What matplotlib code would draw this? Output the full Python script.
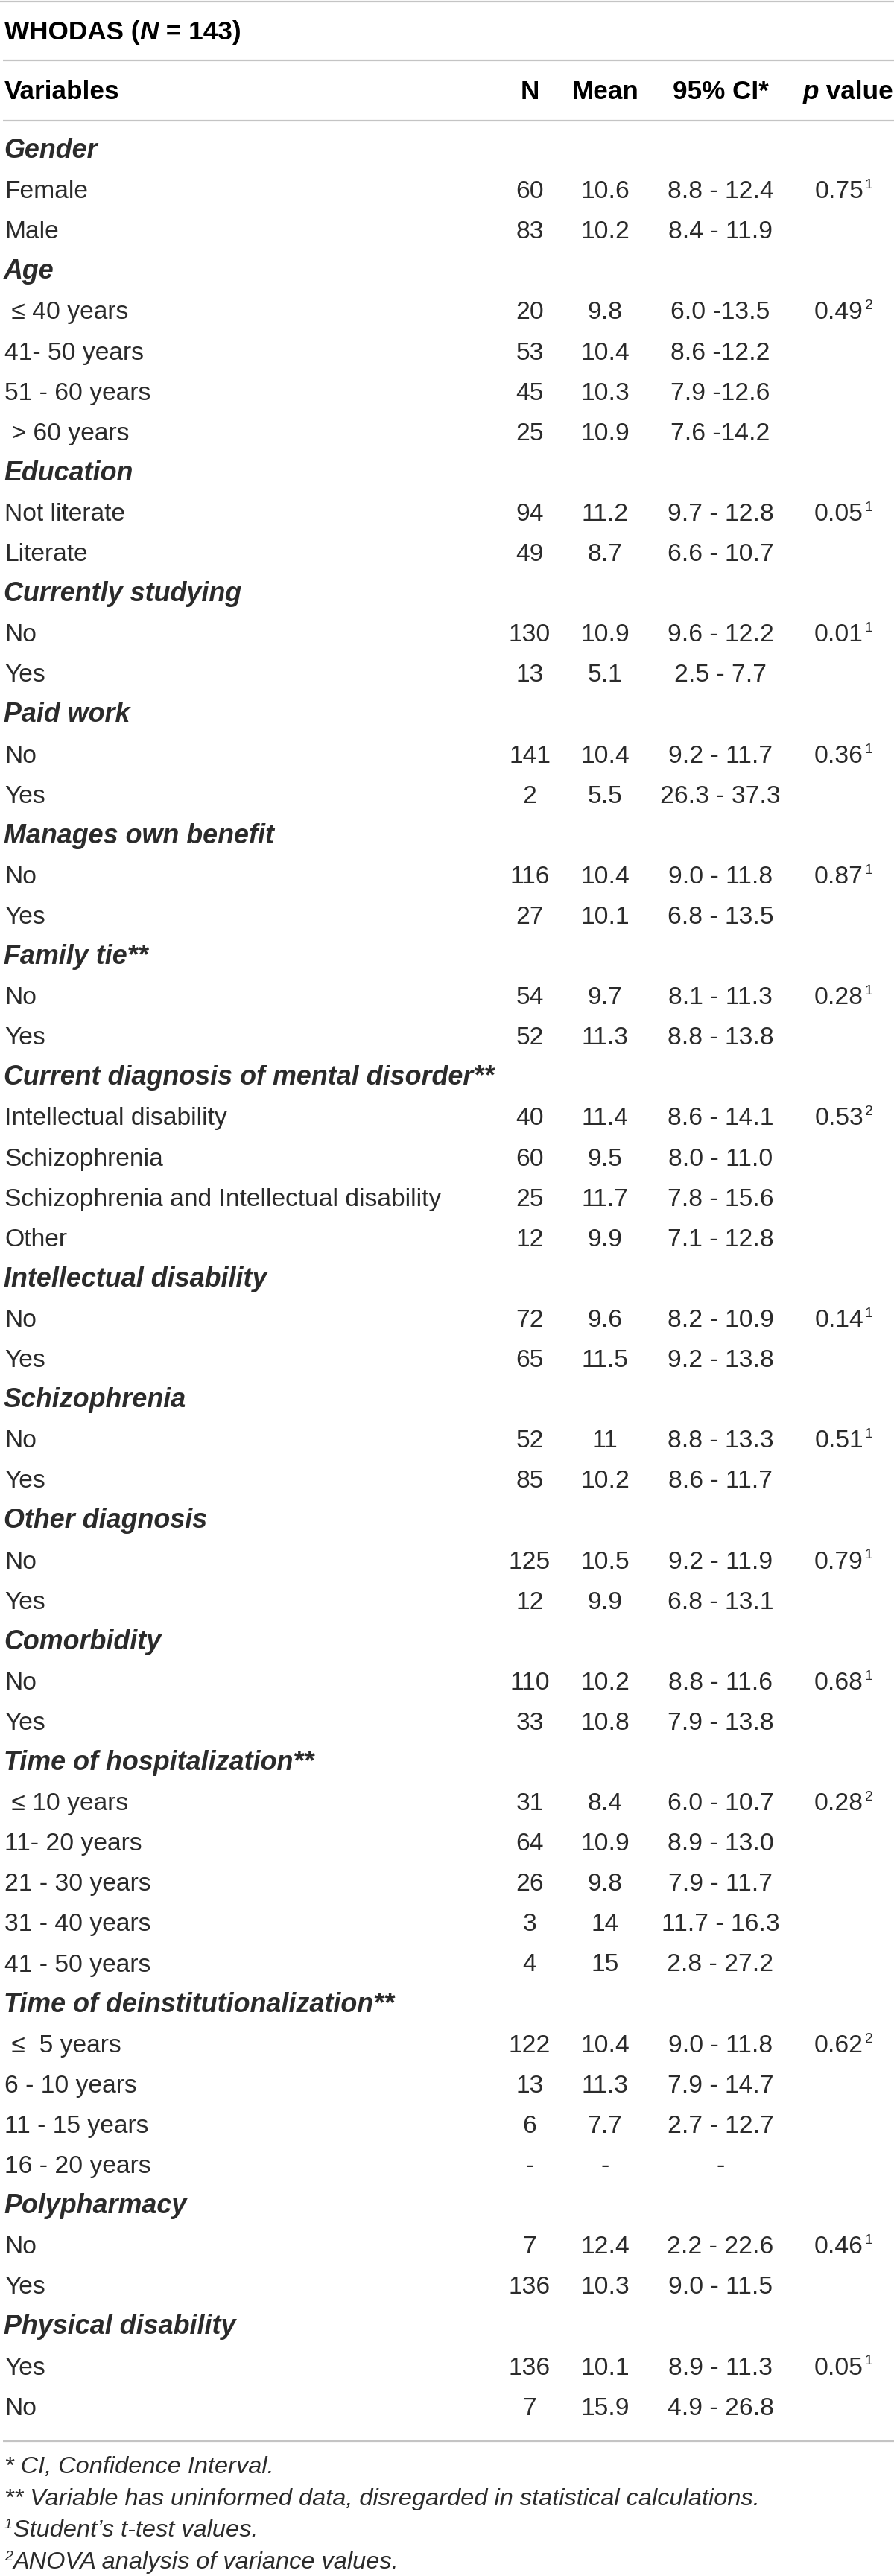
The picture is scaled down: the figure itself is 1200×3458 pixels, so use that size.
import matplotlib
matplotlib.use("Agg")
import matplotlib.pyplot as plt
from matplotlib import font_manager as fm

# ---------------- data ----------------
title_main = "WHODAS"
title_n = "143"
col_headers = ["Variables", "N", "Mean", "95% CI*", "p value"]

labels = [
    "Gender", "Female", "Male",
    "Age", " \u2264 40 years", "41- 50 years", "51 - 60 years", " > 60 years",
    "Education", "Not literate", "Literate",
    "Currently studying", "No", "Yes",
    "Paid work", "No", "Yes",
    "Manages own benefit", "No", "Yes",
    "Family tie**", "No", "Yes",
    "Current diagnosis of mental disorder**", "Intellectual disability", "Schizophrenia",
    "Schizophrenia and Intellectual disability", "Other",
    "Intellectual disability", "No", "Yes",
    "Schizophrenia", "No", "Yes",
    "Other diagnosis", "No", "Yes",
    "Comorbidity", "No", "Yes",
    "Time of hospitalization**", " \u2264 10 years", "11- 20 years", "21 - 30 years",
    "31 - 40 years", "41 - 50 years",
    "Time of deinstitutionalization**", " \u2264  5 years", "6 - 10 years", "11 - 15 years",
    "16 - 20 years",
    "Polypharmacy", "No", "Yes",
    "Physical disability", "Yes", "No",
]
is_group = [
    True, False, False,
    True, False, False, False, False,
    True, False, False,
    True, False, False,
    True, False, False,
    True, False, False,
    True, False, False,
    True, False, False, False, False,
    True, False, False,
    True, False, False,
    True, False, False,
    True, False, False,
    True, False, False, False, False, False,
    True, False, False, False, False,
    True, False, False,
    True, False, False,
]
n_vals = [
    "", "60", "83",
    "", "20", "53", "45", "25",
    "", "94", "49",
    "", "130", "13",
    "", "141", "2",
    "", "116", "27",
    "", "54", "52",
    "", "40", "60", "25", "12",
    "", "72", "65",
    "", "52", "85",
    "", "125", "12",
    "", "110", "33",
    "", "31", "64", "26", "3", "4",
    "", "122", "13", "6", "-",
    "", "7", "136",
    "", "136", "7",
]
mean_vals = [
    "", "10.6", "10.2",
    "", "9.8", "10.4", "10.3", "10.9",
    "", "11.2", "8.7",
    "", "10.9", "5.1",
    "", "10.4", "5.5",
    "", "10.4", "10.1",
    "", "9.7", "11.3",
    "", "11.4", "9.5", "11.7", "9.9",
    "", "9.6", "11.5",
    "", "11", "10.2",
    "", "10.5", "9.9",
    "", "10.2", "10.8",
    "", "8.4", "10.9", "9.8", "14", "15",
    "", "10.4", "11.3", "7.7", "-",
    "", "12.4", "10.3",
    "", "10.1", "15.9",
]
ci_vals = [
    "", "8.8 - 12.4", "8.4 - 11.9",
    "", "6.0 -13.5", "8.6 -12.2", "7.9 -12.6", "7.6 -14.2",
    "", "9.7 - 12.8", "6.6 - 10.7",
    "", "9.6 - 12.2", "2.5 - 7.7",
    "", "9.2 - 11.7", "26.3 - 37.3",
    "", "9.0 - 11.8", "6.8 - 13.5",
    "", "8.1 - 11.3", "8.8 - 13.8",
    "", "8.6 - 14.1", "8.0 - 11.0", "7.8 - 15.6", "7.1 - 12.8",
    "", "8.2 - 10.9", "9.2 - 13.8",
    "", "8.8 - 13.3", "8.6 - 11.7",
    "", "9.2 - 11.9", "6.8 - 13.1",
    "", "8.8 - 11.6", "7.9 - 13.8",
    "", "6.0 - 10.7", "8.9 - 13.0", "7.9 - 11.7", "11.7 - 16.3", "2.8 - 27.2",
    "", "9.0 - 11.8", "7.9 - 14.7", "2.7 - 12.7", "-",
    "", "2.2 - 22.6", "9.0 - 11.5",
    "", "8.9 - 11.3", "4.9 - 26.8",
]
p_vals = [
    "", "0.75", "",
    "", "0.49", "", "", "",
    "", "0.05", "",
    "", "0.01", "",
    "", "0.36", "",
    "", "0.87", "",
    "", "0.28", "",
    "", "0.53", "", "", "",
    "", "0.14", "",
    "", "0.51", "",
    "", "0.79", "",
    "", "0.68", "",
    "", "0.28", "", "", "", "",
    "", "0.62", "", "", "",
    "", "0.46", "",
    "", "0.05", "",
]
p_marks = [
    "", "1", "",
    "", "2", "", "", "",
    "", "1", "",
    "", "1", "",
    "", "1", "",
    "", "1", "",
    "", "1", "",
    "", "2", "", "", "",
    "", "1", "",
    "", "1", "",
    "", "1", "",
    "", "1", "",
    "", "2", "", "", "", "",
    "", "2", "", "", "",
    "", "1", "",
    "", "1", "",
]
footnotes = [
    ("", "* CI, Confidence Interval."),
    ("", "** Variable has uninformed data, disregarded in statistical calculations."),
    ("1", "Student\u2019s t-test values."),
    ("2", "ANOVA analysis of variance values."),
]

# ---------------- fonts ----------------
try:
    fm.findfont(fm.FontProperties(family="Liberation Sans Narrow"), fallback_to_default=False)
    FONT = "Liberation Sans Narrow"
    SCALE = 1.0
except Exception:
    FONT = "Liberation Sans"
    SCALE = 0.82

FAMILY = [FONT, "DejaVu Sans"]
FS = 29.5 * SCALE
FS_HEAD = 30.8 * SCALE
FS_GROUP = 31.5 * SCALE
FS_SUP = 17 * SCALE
FS_FOOT = 28.5 * SCALE

# ---------------- layout ----------------
W, H = 1200, 3458
DPI = 100
TXT = "#2b2b2b"
LINE = "#c4c4c4"

fig = plt.figure(figsize=(W / DPI, H / DPI), dpi=DPI)
ax = fig.add_axes([0, 0, 1, 1])
ax.set_xlim(0, W)
ax.set_ylim(H, 0)
ax.axis("off")
renderer = fig.canvas.get_renderer()


def put(x, y, s, **kw):
    kw.setdefault("family", FAMILY)
    kw.setdefault("color", TXT)
    kw.setdefault("fontsize", FS)
    kw.setdefault("va", "baseline")
    return ax.text(x, y, s, **kw)


def extent(t):
    bb = t.get_window_extent(renderer=renderer)
    inv = ax.transData.inverted()
    (x0, _), (x1, _) = inv.transform([[bb.x0, bb.y0], [bb.x1, bb.y1]])
    return x0, x1


# rules
ax.hlines([2], 0, W, color=LINE, lw=1.6)
ax.hlines([81, 162, 3277], 4, W, color=LINE, lw=1.6)

# title
t = put(6, 53, title_main + " (", fontweight="bold", color="black", fontsize=FS_HEAD)
x = extent(t)[1]
t = put(x, 53, "N", fontweight="bold", fontstyle="italic", color="black", fontsize=FS_HEAD)
x = extent(t)[1]
put(x, 53, " = " + title_n + ")", fontweight="bold", color="black", fontsize=FS_HEAD)

# column headers
HY = 133
col_x = [6, 711, 812, 967]
put(col_x[0], HY, col_headers[0], fontweight="bold", color="black", fontsize=FS_HEAD)
for cx, h in zip(col_x[1:], col_headers[1:4]):
    put(cx, HY, h, fontweight="bold", color="black", ha="center", fontsize=FS_HEAD)
t = put(1199, HY, col_headers[4][1:], fontweight="bold", color="black", ha="right",
        fontsize=FS_HEAD)
x = extent(t)[0]
put(x, HY, col_headers[4][0], fontweight="bold", fontstyle="italic", color="black",
    ha="right", fontsize=FS_HEAD)

# rows
Y0, DY = 212, 54.1
P_RIGHT = 1159
for i, lab in enumerate(labels):
    y = Y0 + i * DY
    if is_group[i]:
        put(5, y, lab, fontweight="bold", fontstyle="italic", fontsize=FS_GROUP)
        continue
    put(6, y, lab)
    put(col_x[1], y, n_vals[i], ha="center")
    put(col_x[2], y, mean_vals[i], ha="center")
    put(col_x[3], y, ci_vals[i], ha="center")
    if p_vals[i]:
        put(P_RIGHT, y, p_vals[i], ha="right")
        put(P_RIGHT + 2, y - 13, p_marks[i], fontsize=FS_SUP)

# footnotes
FY0, FDY = 3320, 42.6
for k, (mark, txt) in enumerate(footnotes):
    y = FY0 + k * FDY
    x = 6
    if mark:
        t = put(x, y - 11, mark, fontsize=FS_SUP, fontstyle="italic")
        x = extent(t)[1] + 1
    put(x, y, txt, fontsize=FS_FOOT, fontstyle="italic")

fig.savefig("out.png", dpi=DPI)
